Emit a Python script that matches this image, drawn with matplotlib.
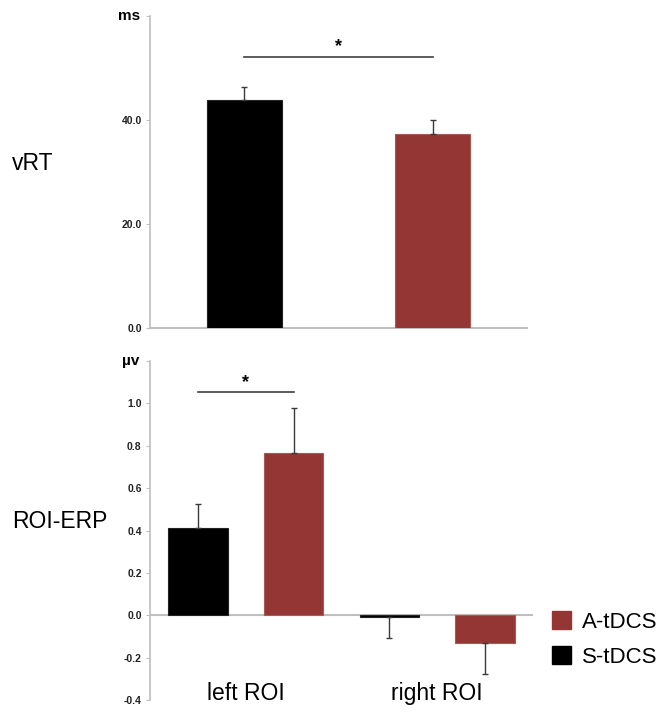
import matplotlib
matplotlib.use("Agg")
import matplotlib.pyplot as plt
import matplotlib.patches as mpatches
import numpy as np

plt.rcParams["font.family"] = ["Liberation Sans", "DejaVu Sans"]

# Data
groups = ["S-tDCS", "A-tDCS"]
colors = ["#000000", "#943634"]

vrt_mean = [43.9, 37.3]
vrt_err = [2.4, 2.7]

rois = ["left ROI", "right ROI"]
erp_mean = {"S-tDCS": [0.414, -0.008], "A-tDCS": [0.765, -0.13]}
erp_err = {"S-tDCS": [0.113, 0.10], "A-tDCS": [0.212, 0.145]}

vrt_ticks = [0, 20, 40, 60]
erp_ticks = [-0.4, -0.2, 0.0, 0.2, 0.4, 0.6, 0.8, 1.0, 1.2]

spine_gray = "#bfbfbf"
err_kw = dict(ecolor="#3a3a3a", elinewidth=1.0, capsize=2.5, capthick=1.0)


def one_sided(means, errs):
    # error bar only on the outer side of each bar
    lower = [e if m < 0 else 0 for m, e in zip(means, errs)]
    upper = [e if m >= 0 else 0 for m, e in zip(means, errs)]
    return [lower, upper]


def style_axis(ax):
    for s in ["top", "right", "bottom"]:
        ax.spines[s].set_visible(False)
    ax.spines["left"].set_color(spine_gray)
    ax.spines["left"].set_linewidth(1.2)
    ax.tick_params(axis="y", direction="out", length=3, color=spine_gray,
                   labelsize=7.5, pad=3)
    ax.tick_params(axis="x", length=0, labelbottom=False)
    for lab in ax.get_yticklabels():
        lab.set_fontweight("bold")
        lab.set_color("#222222")


fig = plt.figure(figsize=(6.72, 7.16), dpi=100)

# ---- top panel: vRT ----
ax1 = fig.add_axes([0.2232, 0.5420, 0.561, 0.4354])
x1 = np.arange(len(groups))
ax1.bar(x1, vrt_mean, width=0.4, color=colors, edgecolor=["#222222", "#a85a58"],
        linewidth=0.8, yerr=one_sided(vrt_mean, vrt_err), error_kw=err_kw, zorder=2)
ax1.set_xlim(-0.5, 1.5)
ax1.set_ylim(0, 60)
ax1.set_yticks(vrt_ticks)
ax1.set_yticklabels(["0.0", "20.0", "40.0", ""])
ax1.axhline(0, color=spine_gray, lw=1.5, zorder=1, clip_on=False)
style_axis(ax1)
ax1.text(-0.027, 1.0, "ms", transform=ax1.transAxes, ha="right", va="center",
         fontsize=11, fontweight="bold")
# significance bracket
ax1.plot([0, 1], [52.2, 52.2], color="#404040", lw=1.2)
ax1.text(0.5, 52.6, "*", ha="center", va="bottom", fontsize=13, fontweight="bold")

# ---- bottom panel: ROI-ERP ----
ax2 = fig.add_axes([0.2232, 0.0223, 0.570, 0.4735])
x2 = np.arange(len(rois))
w = 0.31
for i, g in enumerate(groups):
    off = (i - 0.5) * 0.5
    ax2.bar(x2 + off, erp_mean[g], width=w, color=colors[i],
            edgecolor=["#222222", "#a85a58"][i], linewidth=0.8,
            yerr=one_sided(erp_mean[g], erp_err[g]), error_kw=err_kw, zorder=2)
ax2.set_xlim(-0.5, 1.5)
ax2.set_ylim(-0.4, 1.2)
ax2.set_yticks(erp_ticks)
ax2.set_yticklabels([f"{t:.1f}" for t in erp_ticks[:-1]] + [""])
ax2.axhline(0, color=spine_gray, lw=1.5, zorder=1)
style_axis(ax2)
ax2.text(-0.027, 1.0, "µv", transform=ax2.transAxes, ha="right", va="center",
         fontsize=11, fontweight="bold")
for i, r in enumerate(rois):
    ax2.text(x2[i], -0.37, r, ha="center", va="center", fontsize=16.5)
# significance bracket
ax2.plot([-0.25, 0.25], [1.052, 1.052], color="#404040", lw=1.2)
ax2.text(0, 1.058, "*", ha="center", va="bottom", fontsize=13, fontweight="bold")

# row labels
fig.text(12 / 672, 1 - 163 / 716, "vRT", ha="left", va="center", fontsize=16.5)
fig.text(12 / 672, 1 - 522 / 716, "ROI-ERP", ha="left", va="center", fontsize=16.5)

# legend
handles = [mpatches.Patch(color=colors[1], label=groups[1]),
           mpatches.Patch(color=colors[0], label=groups[0])]
fig.legend(handles=handles, loc="upper left", bbox_to_anchor=(552 / 672, 1 - 611 / 716),
           frameon=False, fontsize=16, handlelength=0.86, handleheight=0.86,
           handletextpad=0.5, labelspacing=0.6, borderpad=0, borderaxespad=0)

fig.savefig("out.png", dpi=100)
